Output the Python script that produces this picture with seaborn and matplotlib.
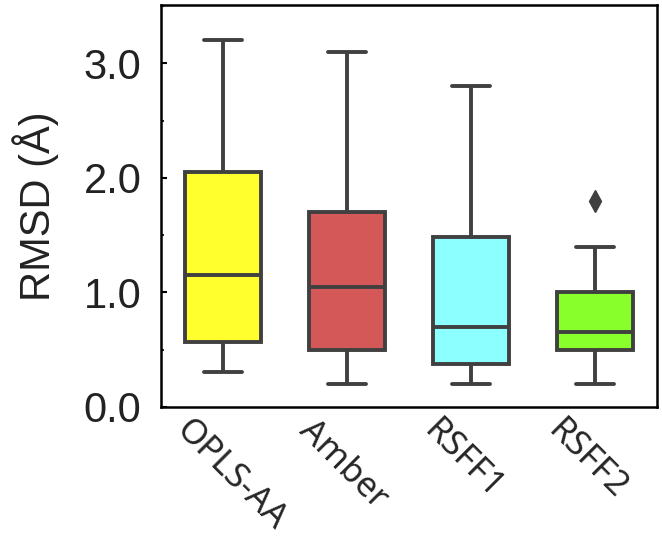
import numpy as np
import pandas as pd
import matplotlib
matplotlib.use("Agg")
import matplotlib.pyplot as plt
import matplotlib.transforms as mtransforms
from matplotlib.ticker import MultipleLocator
import seaborn as sns

# Valeurs (RMSD en angstrom)
categories = ["OPLS-AA", "Amber", "RSFF1", "RSFF2"]
opls_aa = [0.30, 0.45, 0.57, 0.85, 1.15, 1.60, 2.05, 2.60, 3.20]
amber = [0.20, 0.35, 0.50, 0.80, 1.05, 1.40, 1.70, 2.40, 3.10]
rsff1 = [0.20, 0.28, 0.37, 0.55, 0.70, 1.05, 1.48, 2.10, 2.80]
rsff2 = [0.20, 0.40, 0.50, 0.58, 0.65, 0.80, 1.00, 1.40, 1.80]
box_colors = ["#ffff2e", "#d45858", "#8cffff", "#88ff2a"]
y_ticks = [0.0, 1.0, 2.0, 3.0]

df = pd.DataFrame({
    "ff": np.repeat(categories, [len(opls_aa), len(amber), len(rsff1), len(rsff2)]),
    "rmsd": opls_aa + amber + rsff1 + rsff2,
})

sns.set_style("ticks")
plt.rcParams["font.family"] = ["Liberation Sans", "DejaVu Sans"]

fig = plt.figure(figsize=(6.62, 5.41), dpi=100)
ax = fig.add_axes([0.243, 0.248, 0.749, 0.743])

line_col = "#404040"
sns.boxplot(data=df, x="ff", y="rmsd", hue="ff", order=categories,
            palette=box_colors, saturation=1, width=0.61, linewidth=2.8,
            linecolor=line_col, legend=False, ax=ax,
            flierprops=dict(marker="d", markersize=11, markerfacecolor=line_col,
                            markeredgecolor=line_col))

ax.set_xlim(-0.5, 3.5)
ax.set_ylim(0, 3.51)
ax.set_yticks(y_ticks)
ax.set_yticklabels([f"{v:.1f}" for v in y_ticks])
ax.yaxis.set_minor_locator(MultipleLocator(0.5))
ax.tick_params(axis="y", which="major", direction="in", length=4, width=1.5,
               labelsize=30, pad=14, colors="black", labelcolor="#222222")
ax.tick_params(axis="y", which="minor", direction="in", length=2.5, width=1.5)
ax.tick_params(axis="x", length=0, pad=5)

ax.set_xlabel("")
ax.set_ylabel("RMSD (Å)", fontsize=30, labelpad=18, color="#222222")

ax.set_xticks(range(len(categories)))
ax.set_xticklabels(categories, rotation=-45, ha="left", va="top",
                   rotation_mode="anchor", fontsize=25,
                   family=["Noto Sans", "DejaVu Sans"])
offset = mtransforms.ScaledTranslation(-0.30, 0, fig.dpi_scale_trans)
for lbl in ax.get_xticklabels():
    lbl.set_transform(lbl.get_transform() + offset)

for side in ["top", "bottom", "left", "right"]:
    ax.spines[side].set_visible(True)
    ax.spines[side].set_linewidth(1.8)
    ax.spines[side].set_color("black")

fig.savefig("out.png", dpi=100)
